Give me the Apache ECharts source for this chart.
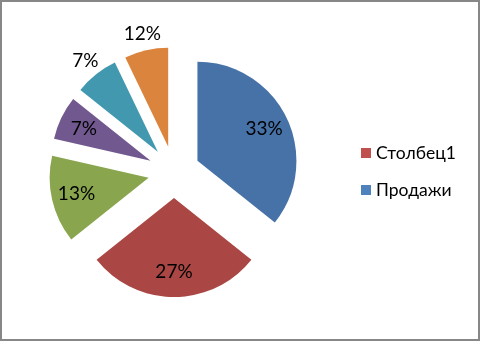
<!DOCTYPE html>
<html><head><meta charset="utf-8">
<script src="https://cdn.jsdelivr.net/npm/echarts@6/dist/echarts.min.js"></script>
<style>
html,body{margin:0;padding:0;background:#fff;}
#c{width:480px;height:341px;box-sizing:border-box;border:2px solid #878787;}
</style></head>
<body><div id="c"></div>
<script>
var categories = ['Продажи', 'Столбец1', 'Кат3', 'Кат4', 'Кат5', 'Кат6'];
var values = [5, 4, 2, 1, 1, 1];
var labelTexts = ['33%', '27%', '13%', '7%', '7%', '12%'];
var outerLabel = [false, false, false, false, true, true];
var colors = ['#4672A8', '#AA4744', '#89A54E', '#71588F', '#4198AF', '#DB843D'];
var legendNames = ['Столбец1', 'Продажи'];
var legendColors = ['#C0504D', '#4F81BD'];

var FONT = 'Lato, "Noto Sans", sans-serif';
var chart = echarts.init(document.getElementById('c'), null, {renderer: 'canvas'});
var CX = 172, CY = 170, R = 99, OFF = 26;

function mk(i, showLabel, transparent) {
  return {
    name: categories[i], value: values[i], selected: true,
    itemStyle: transparent ? {color: 'rgba(0,0,0,0)'} : {color: colors[i]},
    label: {show: showLabel, formatter: labelTexts[i]}
  };
}
var base = {
  type: 'pie', center: [CX, CY], startAngle: 90, clockwise: true,
  selectedMode: 'multiple', selectedOffset: OFF, animation: false,
  avoidLabelOverlap: false, labelLine: {show: false},
  emphasis: {disabled: true}
};
var option = {
  legend: {
    orient: 'vertical', left: 354, top: 137, itemGap: 19,
    itemWidth: 10, itemHeight: 10, icon: 'rect', selectedMode: false,
    textStyle: {fontFamily: FONT, fontSize: 17.5, color: '#000'},
    data: legendNames.map(function (n, k) { return {name: n, itemStyle: {color: legendColors[k]}}; })
  },
  series: [
    Object.assign({}, base, {
      radius: [0, R], label: {show: false},
      data: values.map(function (v, i) { return mk(i, false, false); })
    }),
    Object.assign({}, base, {
      radius: [0, 142], silent: true,
      label: {show: true, position: 'inside', fontFamily: FONT, fontSize: 19, color: '#000'},
      data: values.map(function (v, i) { return mk(i, !outerLabel[i], true); })
    }),
    Object.assign({}, base, {
      radius: [0, 226], silent: true,
      label: {show: true, position: 'inside', fontFamily: FONT, fontSize: 19, color: '#000'},
      data: values.map(function (v, i) { return mk(i, outerLabel[i], true); })
    })
  ]
};
chart.setOption(option);
</script></body></html>
